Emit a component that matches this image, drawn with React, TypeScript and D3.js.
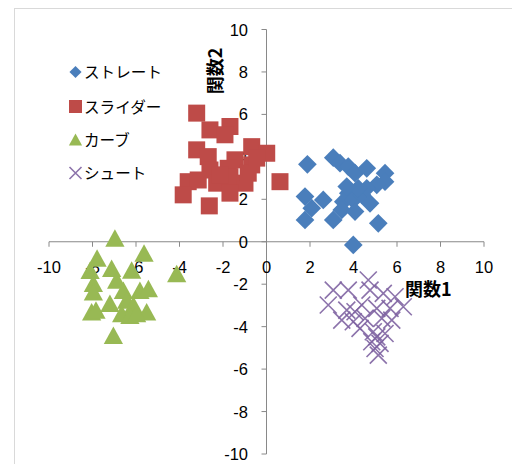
import React from "react";
import * as d3 from "d3";

const straightX = [1.88, 3.07, 3.38, 3.76, 4.07, 4.61, 5.45, 5.45, 5.07, 1.77, 2.61, 2.08, 1.77, 3.07, 3.76, 3.53, 3.99, 4.38, 4.61, 4.76, 3.46, 4.07, 5.14, 3.99, 4.22, 3.69];
const straightY = [3.65, 3.96, 3.70, 3.54, 3.23, 3.46, 3.23, 2.83, 2.68, 2.13, 1.97, 1.58, 1.03, 1.03, 2.29, 1.89, 1.97, 2.21, 2.52, 1.81, 1.50, 1.42, 0.87, -0.15, 2.52, 2.60];

const sliderX = [-3.21, -2.60, -1.68, -1.91, -3.21, -0.68, 0.01, -2.68, -1.45, -0.68, -2.60, -1.76, -3.60, -3.14, -2.29, -1.68, -0.99, -1.68, -3.83, 0.62, -2.63, -0.84, -2.14, -0.45];
const sliderY = [6.06, 5.27, 5.43, 5.04, 4.33, 4.48, 4.17, 4.01, 3.86, 3.62, 3.38, 3.46, 2.83, 2.91, 2.76, 3.07, 2.76, 2.29, 2.21, 2.83, 1.69, 3.23, 3.15, 3.94];

const curveX = [-6.97, -5.63, -7.79, -8.11, -7.12, -6.20, -4.13, -7.96, -6.89, -7.96, -6.58, -5.82, -5.43, -7.20, -6.43, -6.12, -8.04, -7.84, -6.66, -6.28, -5.51, -7.04, -5.97];
const curveY = [0.18, -0.53, -0.77, -1.34, -1.25, -1.33, -1.49, -1.96, -1.80, -2.36, -2.28, -2.28, -2.20, -2.90, -2.75, -2.98, -3.30, -3.22, -3.38, -3.46, -3.30, -4.40, -3.38];

const shootX = [3.07, 2.84, 3.76, 4.68, 4.76, 5.37, 5.91, 6.29, 3.69, 4.07, 4.38, 5.07, 5.68, 3.46, 3.99, 4.53, 5.30, 5.76, 4.91, 5.07, 4.84, 5.22, 4.99, 5.14, 5.45, 4.30];
const shootY = [-2.28, -2.98, -2.28, -1.80, -2.28, -2.43, -2.59, -3.06, -3.22, -3.30, -2.98, -3.14, -3.14, -3.69, -3.77, -3.61, -3.61, -3.69, -4.24, -4.48, -4.71, -4.79, -5.03, -5.34, -4.32, -4.08];

const seriesNames = ["ストレート", "スライダー", "カーブ", "シュート"];
const xTicks = [-10, -8, -6, -4, -2, 0, 2, 4, 6, 8, 10];
const yTicks = [-10, -8, -6, -4, -2, 0, 2, 4, 6, 8, 10];
const xTitle = "関数1";
const yTitle = "関数2";

const COLORS = ["#4A7EBB", "#BE4B48", "#98B954", "#8064A2"];

function marker(kind: number, x: number, y: number, s: number, key: any) {
  const c = COLORS[kind];
  if (kind === 0) {
    const r = s * 0.55;
    return <path key={key} d={`M${x},${y - r}L${x + r},${y}L${x},${y + r}L${x - r},${y}Z`} fill={c} />;
  }
  if (kind === 1) {
    const h = s * 0.5;
    return <rect key={key} x={x - h} y={y - h} width={2 * h} height={2 * h} fill={c} />;
  }
  if (kind === 2) {
    const w = s * 0.55;
    const hh = s * 0.5;
    return <path key={key} d={`M${x},${y - hh}L${x + w},${y + hh}L${x - w},${y + hh}Z`} fill={c} />;
  }
  const h = s * 0.5;
  return (
    <path key={key} d={`M${x - h},${y - h}L${x + h},${y + h}M${x - h},${y + h}L${x + h},${y - h}`} stroke={c} strokeWidth={1.6} fill="none" strokeOpacity={0.9} />
  );
}

export default function App() {
  const W = 512, H = 464;
  const x = d3.scaleLinear().domain([-10, 10]).range([49, 484]);
  const y = d3.scaleLinear().domain([-10, 10]).range([454, 29.5]);
  const x0 = x(0), y0 = y(0);
  const font = "'Liberation Sans', Arial, sans-serif";
  const jfont = "'Noto Sans CJK JP', sans-serif";

  const series = [
    [straightX, straightY],
    [sliderX, sliderY],
    [curveX, curveY],
    [shootX, shootY],
  ];
  const sizes = [17, 17, 17.5, 17];
  const legendSizes = [11, 13, 12, 12];

  const legendY = [72, 106.5, 139.5, 173];

  return (
    <svg width={W} height={H} style={{ position: "absolute", left: 0, top: 0 }}>
      <rect x={0} y={0} width={W} height={H} fill="#fff" />
      <rect x={14.5} y={8.5} width={520} height={480} fill="#fff" stroke="#D9D9D9" strokeWidth={1} />
      {/* axes */}
      <line x1={x(-10)} x2={x(10)} y1={y0} y2={y0} stroke="#898989" strokeWidth={1} />
      <line x1={x0} x2={x0} y1={y(10)} y2={y(-10)} stroke="#898989" strokeWidth={1} />
      {xTicks.map((t) => (
        <line key={"xt" + t} x1={x(t)} x2={x(t)} y1={y0} y2={y0 + 5} stroke="#898989" />
      ))}
      {yTicks.map((t) => (
        <line key={"yt" + t} x1={x0 - 5} x2={x0} y1={y(t)} y2={y(t)} stroke="#898989" />
      ))}
      {xTicks.map((t) => (
        <text key={"xl" + t} x={x(t)} y={y0 + 31} textAnchor="middle" fontFamily={font} fontSize={16.5} fill="#000">
          {t}
        </text>
      ))}
      {yTicks.map((t) => (
        <text key={"yl" + t} x={248} y={y(t) + 6} textAnchor="end" fontFamily={font} fontSize={16.5} fill="#000">
          {t}
        </text>
      ))}
      {/* data */}
      {series.map(([xs, ys], k) => (
        <g key={"s" + k}>
          {xs.map((v, i) => marker(k, x(v), y(ys[i]), sizes[k], k + "-" + i))}
        </g>
      ))}
      {/* axis titles */}
      <text x={405} y={295.5} fontFamily={jfont} fontSize={18} fontWeight="bold" fill="#000">
        {xTitle}
      </text>
      <text transform={`translate(221.5,71) rotate(-90)`} textAnchor="middle" fontFamily={jfont} fontSize={18} fontWeight="bold" fill="#000">
        {yTitle}
      </text>
      {/* legend */}
      {seriesNames.map((n, k) => (
        <g key={"lg" + k}>
          {marker(k, 75.5, legendY[k], legendSizes[k], "lm" + k)}
          <text x={84} y={legendY[k] + 6} fontFamily={jfont} fontSize={15.6} fill="#000">
            {n}
          </text>
        </g>
      ))}
    </svg>
  );
}
